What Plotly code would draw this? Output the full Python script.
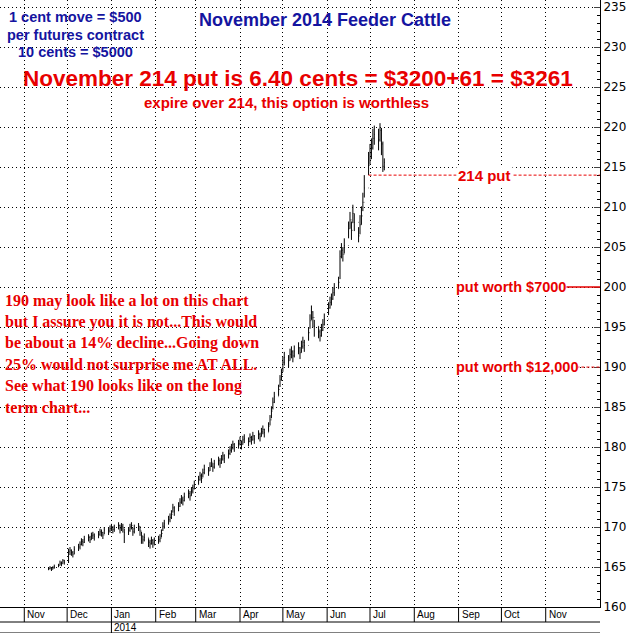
import pandas as pd
import plotly.graph_objects as go

# week starts (Mondays), 5 trading days each
week_starts = ["2013-11-18", "2013-11-25", "2013-12-02", "2013-12-09", "2013-12-16",
               "2013-12-23", "2013-12-30", "2014-01-06", "2014-01-13", "2014-01-20",
               "2014-01-27", "2014-02-03", "2014-02-10", "2014-02-17", "2014-02-24",
               "2014-03-03", "2014-03-10", "2014-03-17", "2014-03-24", "2014-03-31",
               "2014-04-07", "2014-04-14", "2014-04-21", "2014-04-28", "2014-05-05",
               "2014-05-12", "2014-05-19", "2014-05-26", "2014-06-02", "2014-06-09",
               "2014-06-16", "2014-06-23", "2014-06-30", "2014-07-07"]

close = [164.8, 164.9, 164.7, 164.9, 165.0,
         165.2, 165.5, 165.4, 165.8, 165.6,
         166.9, 167.1, 166.8, 166.6, 167.2,
         167.5, 167.8, 168.2, 168.1, 168.5,
         168.7, 168.4, 168.9, 169.0, 168.8,
         169.1, 169.4, 169.3, 169.0, 169.6,
         169.5, 169.8, 170.0, 169.7, 169.9,
         170.2, 169.8, 170.1, 169.9, 169.3,
         169.6, 170.0, 170.2, 169.4, 169.8,
         170.1, 169.5, 168.9, 168.4, 168.7,
         168.1, 167.9, 168.3, 168.0, 168.2,
         168.4, 168.6, 169.2, 170.1, 170.4,
         170.9, 171.2, 171.6, 172.4, 172.0,
         172.6, 173.1, 173.5, 173.3, 173.8,
         174.2, 173.9, 174.5, 174.8, 175.3,
         175.9, 176.4, 176.1, 176.8, 177.2,
         177.0, 177.6, 178.1, 177.5, 177.9,
         178.3, 178.0, 178.5, 178.9, 178.6,
         179.2, 179.6, 179.9, 180.3, 180.0,
         180.4, 180.8, 180.3, 180.9, 181.1,
         180.7, 181.2, 180.9, 181.4, 181.0,
         181.6, 181.3, 181.9, 182.2, 181.8,
         182.6, 183.4, 184.5, 185.6, 186.3,
         187.2, 188.4, 189.1, 190.6, 191.2,
         190.8, 191.6, 191.9, 191.4, 192.0,
         192.4, 191.8, 192.6, 193.1, 192.7,
         194.3, 195.8, 196.9, 196.2, 195.1,
         194.4, 193.9, 194.6, 195.3, 196.0,
         197.4, 198.1, 198.5, 199.3, 199.8,
         200.6, 203.8, 204.6, 204.1, 205.2,
         207.3, 208.4, 207.1, 209.2, 208.1,
         206.4, 207.8, 208.9, 210.6, 212.4,
         215.2, 216.8, 217.4, 218.6, 219.1,
         218.4, 219.6, 217.9, 215.1, 215.6]

low = [164.6, 164.7, 164.5, 164.7, 164.8,
       165.0, 165.2, 165.1, 165.4, 165.3,
       165.5, 166.5, 166.4, 166.2, 166.6,
       167.0, 167.2, 167.7, 167.6, 168.0,
       168.2, 168.0, 168.4, 168.5, 168.3,
       168.6, 168.9, 168.8, 168.5, 169.1,
       169.0, 169.3, 169.5, 169.2, 169.4,
       169.7, 169.2, 169.5, 169.3, 168.0,
       169.0, 169.4, 169.7, 168.9, 169.2,
       169.5, 168.9, 167.9, 167.9, 168.2,
       167.5, 167.3, 167.8, 167.4, 167.7,
       167.9, 168.1, 168.7, 169.5, 169.8,
       170.3, 170.6, 171.0, 171.8, 171.4,
       172.0, 172.5, 172.9, 172.7, 173.2,
       173.6, 173.3, 173.9, 174.2, 174.7,
       175.3, 175.8, 175.5, 176.2, 176.6,
       176.4, 177.0, 177.5, 176.9, 177.3,
       177.7, 177.4, 177.9, 178.3, 178.0,
       178.6, 179.0, 179.3, 179.7, 179.4,
       179.8, 180.2, 179.7, 180.3, 180.5,
       180.1, 180.6, 180.3, 180.8, 180.4,
       181.0, 180.7, 181.3, 181.6, 181.2,
       181.9, 182.7, 183.6, 184.7, 185.5,
       186.4, 187.5, 188.3, 189.4, 190.2,
       190.0, 190.8, 191.1, 190.6, 191.2,
       191.6, 191.0, 191.8, 192.3, 191.9,
       193.3, 194.8, 195.9, 195.0, 193.8,
       193.6, 193.2, 193.8, 194.5, 195.2,
       196.5, 197.3, 197.7, 198.4, 198.9,
       199.8, 201.0, 203.6, 203.2, 204.2,
       206.1, 207.3, 205.9, 208.0, 207.0,
       205.6, 206.6, 207.8, 209.5, 211.2,
       214.0, 215.3, 216.0, 217.2, 217.8,
       217.1, 218.2, 216.5, 214.4, 214.6]

high = [165.0, 165.1, 165.0, 165.1, 165.3,
        165.4, 165.8, 165.7, 166.0, 165.9,
        167.3, 167.5, 167.2, 167.0, 167.6,
        167.9, 168.2, 168.6, 168.5, 168.9,
        169.1, 168.9, 169.3, 169.4, 169.2,
        169.5, 169.8, 169.7, 169.4, 170.0,
        169.9, 170.2, 170.4, 170.1, 170.3,
        170.6, 170.3, 170.5, 170.4, 169.8,
        170.0, 170.4, 170.6, 169.9, 170.3,
        170.5, 170.1, 169.4, 168.9, 169.2,
        168.6, 168.4, 168.8, 168.5, 168.7,
        168.9, 169.1, 169.7, 170.6, 170.9,
        171.4, 171.7, 172.1, 172.9, 172.6,
        173.1, 173.6, 174.0, 173.8, 174.3,
        174.7, 174.5, 175.0, 175.3, 175.8,
        176.4, 176.9, 176.7, 177.3, 177.8,
        177.5, 178.1, 178.6, 178.0, 178.4,
        178.8, 178.6, 179.0, 179.4, 179.1,
        179.7, 180.1, 180.4, 180.8, 180.5,
        180.9, 181.3, 180.8, 181.4, 181.6,
        181.2, 181.7, 181.4, 181.9, 181.5,
        182.1, 181.8, 182.4, 182.7, 182.3,
        183.1, 184.0, 185.1, 186.2, 186.9,
        187.8, 189.0, 189.8, 191.3, 191.9,
        191.5, 192.3, 192.6, 192.1, 192.7,
        193.1, 192.5, 193.3, 193.8, 193.4,
        195.0, 196.6, 197.7, 197.0, 195.9,
        195.1, 194.7, 195.4, 196.0, 196.7,
        198.1, 198.8, 199.2, 200.0, 200.5,
        201.3, 204.6, 205.5, 205.0, 206.1,
        208.2, 209.4, 208.2, 210.3, 209.2,
        207.5, 209.0, 210.1, 211.8, 214.0,
        216.9, 217.9, 218.6, 219.8, 220.2,
        219.8, 220.5, 219.9, 218.2, 216.1]

months = ["Nov", "Dec", "Jan", "Feb", "Mar", "Apr", "May", "Jun", "Jul", "Aug", "Sep", "Oct", "Nov"]
month_starts = ["2013-11-01", "2013-12-01", "2014-01-01", "2014-02-01", "2014-03-01",
                "2014-04-01", "2014-05-01", "2014-06-01", "2014-07-01", "2014-08-01",
                "2014-09-01", "2014-10-01", "2014-11-01"]

left_note = ["190 may look like a lot on this chart",
             "but I assure you it is not...This would",
             "be about a 14% decline...Going down",
             "25% would not surprise me AT ALL.",
             "See what 190 looks like on the long",
             "term chart..."]

dates = []
for w in week_starts:
    for d in range(5):
        dates.append(pd.Timestamp(w) + pd.Timedelta(days=d))
opens = [close[0]] + close[:-1]

RED = "#e80000"
BLUE = "#1414a0"
DOT = "1px,3px"

fig = go.Figure(go.Ohlc(x=dates, open=opens, high=high, low=low, close=close,
                        increasing_line_color="black", decreasing_line_color="black",
                        line_width=1, tickwidth=0.3, showlegend=False))

x_start, x_end = "2013-10-15", "2014-12-09"

fig.update_layout(
    width=630, height=633,
    margin=dict(l=0, r=30, t=0, b=26),
    plot_bgcolor="white", paper_bgcolor="white",
    font=dict(family="Arial", color="black"),
    xaxis=dict(range=[x_start, x_end], rangeslider_visible=False, tickvals=month_starts,
               showticklabels=False, showgrid=True, gridcolor="black", griddash=DOT,
               gridwidth=1, showline=True, linecolor="black", mirror=True, ticks=""),
    yaxis=dict(range=[160, 235.9], side="right", dtick=5, tick0=165, showgrid=True,
               gridcolor="black", griddash=DOT, gridwidth=1, showline=True,
               linecolor="black", mirror=True, ticks="inside", ticklen=6,
               minor=dict(dtick=1, ticks="inside", ticklen=3, tickcolor="black"),
               tickfont=dict(size=12, family="DejaVu Sans"), zeroline=False),
)

# bottom date strip
h = 607.0
row1 = -15 / h
row2 = -26 / h
shapes = [
    dict(type="line", xref="paper", yref="paper", x0=0, x1=1, y0=row1, y1=row1, line=dict(color="black", width=1)),
    dict(type="line", xref="paper", yref="paper", x0=0, x1=1, y0=row2, y1=row2, line=dict(color="black", width=1)),
    dict(type="line", xref="x", yref="paper", x0=month_starts[2], x1=month_starts[2], y0=row1, y1=row2, line=dict(color="black", width=1)),
]
for m, s in zip(months, month_starts):
    shapes.append(dict(type="line", xref="x", yref="paper", x0=s, x1=s, y0=0, y1=row1, line=dict(color="black", width=1)))
    fig.add_annotation(x=s, y=row1 / 2, xref="x", yref="paper", text=m, showarrow=False,
                       xanchor="left", yanchor="middle", xshift=1, font=dict(size=10, family="Arial"))
fig.add_annotation(x=month_starts[2], y=(row1 + row2) / 2, xref="x", yref="paper", text="2014",
                   showarrow=False, xanchor="left", yanchor="middle", xshift=1,
                   font=dict(size=10, family="Arial"))

# put lines
shapes.append(dict(type="line", xref="x", yref="y", x0="2014-06-30", x1=x_end, y0=214, y1=214,
                   line=dict(color=RED, width=1, dash="3px,2px")))
shapes.append(dict(type="line", xref="x", yref="y", x0="2014-09-10", x1=x_end, y0=200, y1=200,
                   line=dict(color=RED, width=1.5)))
shapes.append(dict(type="line", xref="x", yref="y", x0="2014-09-10", x1=x_end, y0=190, y1=190,
                   line=dict(color=RED, width=1, dash="3px,2px")))
fig.update_layout(shapes=shapes)

fig.add_annotation(x=484 / 600, y=214, xref="paper", yref="y", text="<b>214 put</b>",
                   showarrow=False, xanchor="center", yanchor="middle", bgcolor="white",
                   font=dict(size=15, color=RED))
for txt, yv in [("put worth $7000", 200), ("put worth $12,000", 190)]:
    fig.add_annotation(x=455 / 600, y=yv, xref="paper", yref="y", text="<b>%s</b>" % txt,
                       showarrow=False, xanchor="left", yanchor="middle", bgcolor="white",
                       borderpad=0, font=dict(size=14.5, color=RED))

# texts
def label(x, y, txt, size, color, family="Arial", anchor="center"):
    fig.add_annotation(x=x / 600, y=1 - y / h, xref="paper", yref="paper",
                       text="<b>%s</b>" % txt, showarrow=False, xanchor=anchor,
                       yanchor="middle", font=dict(size=size, color=color, family=family))

for i, line in enumerate(["1 cent move = $500", "per futures contract", "10 cents = $5000"]):
    label(75, 17 + 17.5 * i, line, 14.5, BLUE)
label(325, 20, "November 2014 Feeder Cattle", 18, BLUE)
label(298, 78, "November 214 put is 6.40 cents = $3200+61 = $3261", 22.5, RED)
label(286, 103, "expire over 214, this option is worthless", 15, RED)
for i, line in enumerate(left_note):
    label(3, 301 + 21.2 * i, line, 16, RED, family="Liberation Serif", anchor="left")

fig.write_html("out.html", post_script="document.body.style.margin='0';",
               config={"displayModeBar": False})
